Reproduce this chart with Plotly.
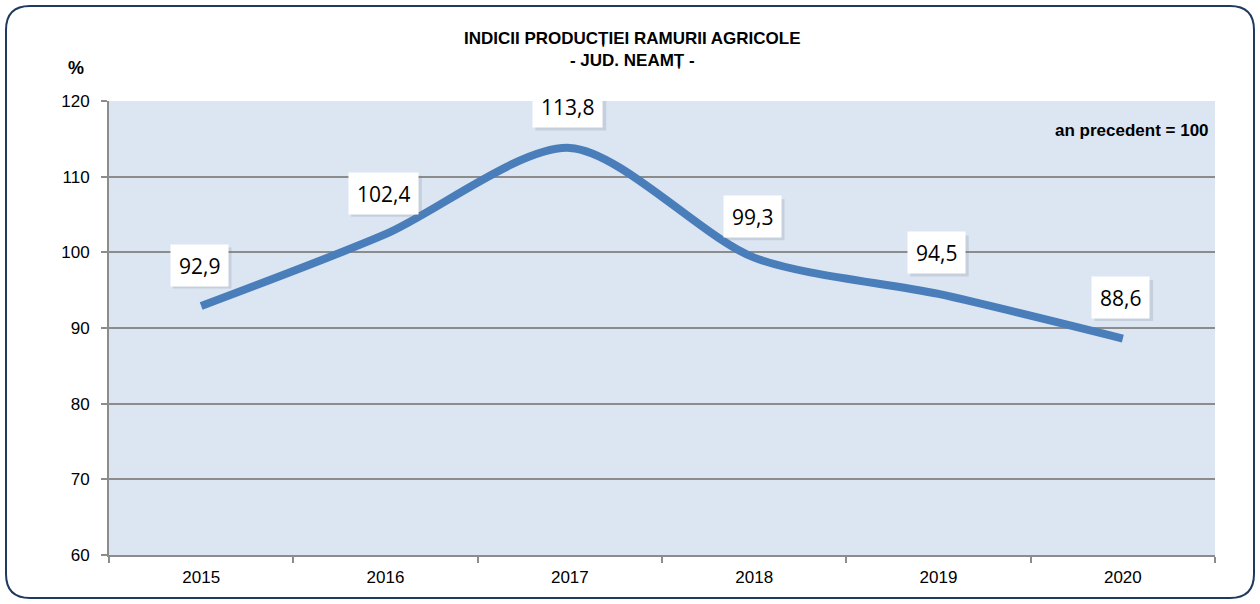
import plotly.graph_objects as go

years = ["2015", "2016", "2017", "2018", "2019", "2020"]
values = [92.9, 102.4, 113.8, 99.3, 94.5, 88.6]
labels = ["92,9", "102,4", "113,8", "99,3", "94,5", "88,6"]
y_ticks = [60, 70, 80, 90, 100, 110, 120]

SANS = "Liberation Sans, Arial"

fig = go.Figure()
fig.add_trace(go.Scatter(
    x=years, y=values, mode="lines",
    line=dict(color="#4A7EBB", width=8, shape="spline", smoothing=0.8),
    hoverinfo="skip", showlegend=False,
))

label_font = dict(family="Open Sans, Liberation Sans", size=21, color="#000000")
shapes = []
for i, (v, t) in enumerate(zip(values, labels)):
    n_dig = sum(c.isdigit() for c in t)
    w = 12.2 * n_dig + 6 + 16
    # soft shadow behind the label box
    shapes.append(dict(
        type="rect", xref="x", yref="y", xsizemode="pixel", ysizemode="pixel",
        xanchor=i, yanchor=v,
        x0=-2 - w / 2 + 3, x1=-2 + w / 2 + 3, y0=41 - 20.5 - 3, y1=41 + 20.5 - 3,
        fillcolor="rgba(110,120,140,0.20)", line=dict(width=0), layer="above",
    ))
    fig.add_annotation(
        xref="x", yref="y", x=i, y=v, text=t, showarrow=False,
        yshift=41, xshift=-2, height=25,
        bgcolor="white", borderpad=8,
        font=label_font,
    )

fig.add_annotation(xref="paper", yref="paper", x=0.5, y=1.0, xshift=-30, yshift=52,
                   text="<b>INDICII PRODUCȚIEI RAMURII AGRICOLE<br>- JUD. NEAMȚ -</b>",
                   showarrow=False, xanchor="center", yanchor="middle",
                   font=dict(family=SANS, size=17, color="#000000"))
fig.add_annotation(xref="paper", yref="paper", x=0, y=1.0, xshift=-33, yshift=33,
                   text="<b>%</b>", showarrow=False, xanchor="center", yanchor="middle",
                   font=dict(family=SANS, size=18, color="#000000"))
fig.add_annotation(xref="paper", yref="paper", x=1.0, y=1.0, xshift=-4, yshift=-29,
                   text="<b>an precedent = 100</b>", showarrow=False,
                   xanchor="right", yanchor="middle",
                   font=dict(family=SANS, size=17, color="#000000"))

L, R, T, B = 109, 45, 101, 49
W, H = 1260, 604
pw, ph = W - L - R, H - T - B
def px(x): return (x - L) / pw
def py(y): return (H - B - y) / ph

x0, y0, x1, y1, r = 6, 6, 1254, 598, 24
path = (f"M {px(x0+r)},{py(y0)} L {px(x1-r)},{py(y0)} Q {px(x1)},{py(y0)} {px(x1)},{py(y0+r)} "
        f"L {px(x1)},{py(y1-r)} Q {px(x1)},{py(y1)} {px(x1-r)},{py(y1)} L {px(x0+r)},{py(y1)} "
        f"Q {px(x0)},{py(y1)} {px(x0)},{py(y1-r)} L {px(x0)},{py(y0+r)} Q {px(x0)},{py(y0)} {px(x0+r)},{py(y0)} Z")
shapes.insert(0, dict(type="path", xref="paper", yref="paper", path=path,
                      line=dict(color="#1F3A5F", width=2), layer="below"))

fig.update_layout(
    width=W, height=H,
    margin=dict(l=L, r=R, t=T, b=B),
    paper_bgcolor="white", plot_bgcolor="#DCE6F2",
    xaxis=dict(
        type="category", tickson="boundaries", ticks="outside", ticklen=6,
        tickcolor="#8C8C8C", tickwidth=2, showgrid=False,
        showline=True, linecolor="#8C8C8C", linewidth=2,
        tickfont=dict(family=SANS, size=17, color="#000000"),
        ticklabelstandoff=6,
        range=[-0.5, 5.5],
    ),
    yaxis=dict(
        range=[60, 120], tickvals=y_ticks, ticks="outside", ticklen=6,
        tickcolor="#8C8C8C", tickwidth=2, showgrid=True,
        gridcolor="#8C8C8C", gridwidth=2,
        showline=True, linecolor="#8C8C8C", linewidth=2,
        tickfont=dict(family=SANS, size=17, color="#000000"),
        ticklabelstandoff=8,
        zeroline=False,
    ),
    shapes=shapes,
)

fig.write_html("out.html", config={"displayModeBar": False},
               post_script="document.body.style.margin='0';")
